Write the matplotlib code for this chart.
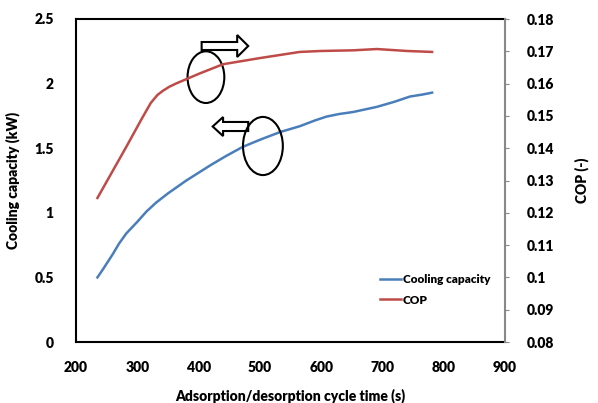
import matplotlib.pyplot as plt
from matplotlib.patches import Ellipse, Polygon

# cycle time (s) vs cooling capacity (kW), left axis
cap_time = [235, 245, 260, 270, 282, 300, 315, 331, 350, 365, 380, 420, 445, 472,
            500, 533, 565, 590, 609, 630, 652, 691, 720, 745, 765, 781]
cap_kw = [0.50, 0.57, 0.68, 0.76, 0.84, 0.93, 1.01, 1.08, 1.15, 1.20, 1.25, 1.37, 1.44, 1.51,
          1.565, 1.625, 1.67, 1.715, 1.745, 1.765, 1.78, 1.82, 1.86, 1.90, 1.915, 1.93]

# cycle time (s) vs COP (-), right axis
cop_time = [235, 282, 309, 322, 333, 342, 352, 363, 400, 440, 500, 565, 600, 652, 691, 740, 781]
cop_val = [0.1246, 0.1404, 0.1497, 0.1540, 0.1565, 0.1578, 0.1590, 0.1600, 0.1630, 0.1660,
           0.1679, 0.1698, 0.1701, 0.1703, 0.1707, 0.1701, 0.1698]

x_ticks = [200, 300, 400, 500, 600, 700, 800, 900]
left_ticks = [0, 0.5, 1, 1.5, 2, 2.5]
right_ticks = [0.08, 0.09, 0.1, 0.11, 0.12, 0.13, 0.14, 0.15, 0.16, 0.17, 0.18]

plt.rcParams['font.family'] = ['Lato', 'DejaVu Sans']
plt.rcParams['font.weight'] = 'heavy'

blue = '#4A7EBB'
red = '#BE4B48'

fig = plt.figure(figsize=(5.98, 4.03), dpi=100)
ax = fig.add_axes([76/598, 1 - 342/403, (505-76)/598, (342-19)/403])
ax2 = ax.twinx()

l1, = ax.plot(cap_time, cap_kw, color=blue, lw=1.8, label='Cooling capacity')
l2, = ax2.plot(cop_time, cop_val, color=red, lw=1.8, label='COP')

ax.set_xlim(200, 900)
ax.set_ylim(0, 2.5)
ax2.set_ylim(0.08, 0.18)
ax.set_xticks(x_ticks)
ax.set_yticks(left_ticks)
ax.set_yticklabels(['0', '0.5', '1', '1.5', '2', '2.5'])
ax2.set_yticks(right_ticks)
ax2.set_yticklabels(['0.08', '0.09', '0.1', '0.11', '0.12', '0.13', '0.14',
                     '0.15', '0.16', '0.17', '0.18'])

ax.tick_params(axis='both', length=0, labelsize=10)
ax.tick_params(axis='y', pad=16)
ax.tick_params(axis='x', pad=14)
ax2.tick_params(axis='y', length=3, color='#888888', labelsize=10, pad=13)

for s in ['left', 'bottom', 'top']:
    ax.spines[s].set_linewidth(1.5)
    ax.spines[s].set_color('black')
ax.spines['right'].set_visible(False)
ax2.spines['left'].set_visible(False)
ax2.spines['top'].set_visible(False)
ax2.spines['bottom'].set_visible(False)
ax2.spines['right'].set_color('#888888')
ax2.spines['right'].set_linewidth(1.5)

ax.set_xlabel('Adsorption/desorption cycle time (s)', fontsize=10, fontweight='heavy', labelpad=10)
ax.set_ylabel('Cooling capacity (kW)', fontsize=10, fontweight='heavy', labelpad=10)
ax2.set_ylabel('COP (-)', fontsize=10, fontweight='heavy', labelpad=14)

# annotations: ellipses with arrows pointing to each axis
ax.add_patch(Ellipse((412, 2.05), 60, 0.40, fill=False, lw=1.5, ec='black', zorder=5))
ax.add_patch(Ellipse((505, 1.517), 65, 0.45, fill=False, lw=1.5, ec='black', zorder=5))
ax.add_patch(Polygon([(405, 2.322), (463, 2.322), (463, 2.376), (481, 2.291),
                      (463, 2.206), (463, 2.260), (405, 2.260)],
                     closed=True, fill=False, lw=1.5, ec='black', zorder=5))
ax.add_patch(Polygon([(481, 1.703), (440, 1.703), (440, 1.741), (423, 1.668),
                      (440, 1.594), (440, 1.633), (481, 1.633)],
                     closed=True, fill=False, lw=1.5, ec='black', zorder=5))

ax.legend([l1, l2], ['Cooling capacity', 'COP'], loc='lower right',
          bbox_to_anchor=(0.99, 0.08), frameon=False, fontsize=8.5,
          handlelength=1.8, handletextpad=0.1, labelspacing=0.8)

fig.savefig('out.png', dpi=100)
